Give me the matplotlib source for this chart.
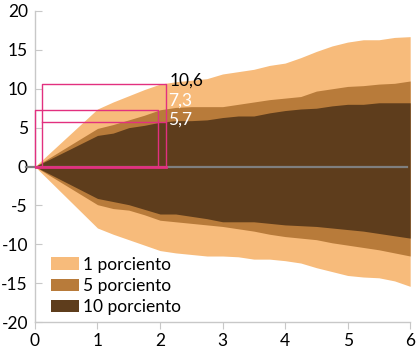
import matplotlib
matplotlib.use("Agg")
import matplotlib.pyplot as plt
from matplotlib.patches import Patch

plt.rcParams['font.family'] = ['Lato', 'DejaVu Sans']
plt.rcParams['axes.unicode_minus'] = False

# horizon (years) and fan bounds
x = [0, 1, 1.25, 1.5, 1.75, 2, 2.25, 2.5, 2.75, 3, 3.25, 3.5, 3.75, 4,
     4.25, 4.5, 4.75, 5, 5.25, 5.5, 5.75, 6]
up_1 = [0, 7.4, 8.3, 9.1, 9.9, 10.6, 10.9, 11.1, 11.3, 11.9, 12.2, 12.5, 13.0, 13.3,
        14.0, 14.8, 15.5, 16.0, 16.3, 16.3, 16.6, 16.7]
up_5 = [0, 4.9, 5.4, 6.0, 6.6, 7.3, 7.6, 7.7, 7.7, 7.7, 8.0, 8.3, 8.6, 8.8,
        9.0, 9.7, 10.0, 10.3, 10.4, 10.6, 10.7, 11.0]
up_10 = [0, 4.0, 4.3, 5.0, 5.3, 5.7, 5.9, 5.9, 6.0, 6.3, 6.5, 6.5, 6.9, 7.2,
         7.4, 7.5, 7.8, 8.0, 8.0, 8.2, 8.2, 8.2]
lo_10 = [0, -4.1, -4.5, -4.9, -5.5, -6.1, -6.1, -6.4, -6.7, -7.1, -7.1, -7.1, -7.3, -7.5,
         -7.6, -7.7, -7.9, -8.1, -8.3, -8.6, -8.9, -9.2]
lo_5 = [0, -4.9, -5.4, -5.6, -6.2, -6.9, -7.1, -7.3, -7.5, -7.7, -8.0, -8.3, -8.7, -9.0,
        -9.2, -9.4, -9.8, -10.1, -10.4, -10.7, -11.1, -11.5]
lo_1 = [0, -7.9, -8.7, -9.4, -10.1, -10.8, -11.1, -11.3, -11.5, -11.5, -11.6, -11.9, -11.9, -12.1,
        -12.4, -13.0, -13.5, -14.0, -14.2, -14.3, -14.7, -15.4]

labels = ['1 porciento', '5 porciento', '10 porciento']
colors = ['#f7bb7b', '#b87b3a', '#5e3d1c']

# highlighted values at year 2
marks = [10.6, 7.3, 5.7]
mark_text = ['10,6', '7,3', '5,7']
mark_color = ['black', 'white', 'white']

fig = plt.figure(figsize=(4.16, 3.54), dpi=100)
ax = fig.add_axes([0.084, 0.090, 0.902, 0.879])

ax.fill_between(x, lo_1, up_1, color=colors[0], lw=0)
ax.fill_between(x, lo_5, up_5, color=colors[1], lw=0)
ax.fill_between(x, lo_10, up_10, color=colors[2], lw=0)

ax.plot([-0.15, 5.95], [0, 0], color='#7f7f7f', lw=1.6, clip_on=False, zorder=3)

pink = '#e2307f'
# boxes pointing at the year-2 values
ax.plot([0.11, 0.11, 2.1, 2.1], [0, marks[0], marks[0], 0], color=pink, lw=1, zorder=4)
ax.plot([0, 0, 1.97, 1.97], [0, marks[1], marks[1], 0], color=pink, lw=1, zorder=4, clip_on=False)
ax.plot([0.11, 2.1], [marks[2], marks[2]], color=pink, lw=1, zorder=4)
ax.plot([0, 2.1], [0, 0], color=pink, lw=2, zorder=4)

ax.text(2.16, 11.1, mark_text[0], color=mark_color[0], fontsize=12.5, va='center')
ax.text(2.13, 8.5, mark_text[1], color=mark_color[1], fontsize=12.5, va='center')
ax.text(2.13, 6.0, mark_text[2], color=mark_color[2], fontsize=12.5, va='center')

ax.set_xlim(0, 6)
ax.set_ylim(-20, 20)
ax.set_xticks(range(0, 7))
ax.set_yticks(range(-20, 21, 5))

for s in ['top', 'right']:
    ax.spines[s].set_visible(False)
for s in ['left', 'bottom']:
    ax.spines[s].set_color('#c8c8c8')
    ax.spines[s].set_linewidth(1)
ax.tick_params(axis='y', direction='in', length=5, color='#c8c8c8', labelsize=12.5, pad=5)
ax.tick_params(axis='x', direction='out', length=5, color='#c8c8c8', labelsize=12.5, pad=3)

handles = [Patch(facecolor=c, edgecolor='none') for c in colors]
ax.legend(handles, labels, loc='lower left', bbox_to_anchor=(0.025, 0.0), frameon=False,
          fontsize=12.5, handlelength=1.6, handleheight=0.75, handletextpad=0.25,
          labelspacing=0.3, borderaxespad=0)

fig.savefig('out.png', dpi=100)
